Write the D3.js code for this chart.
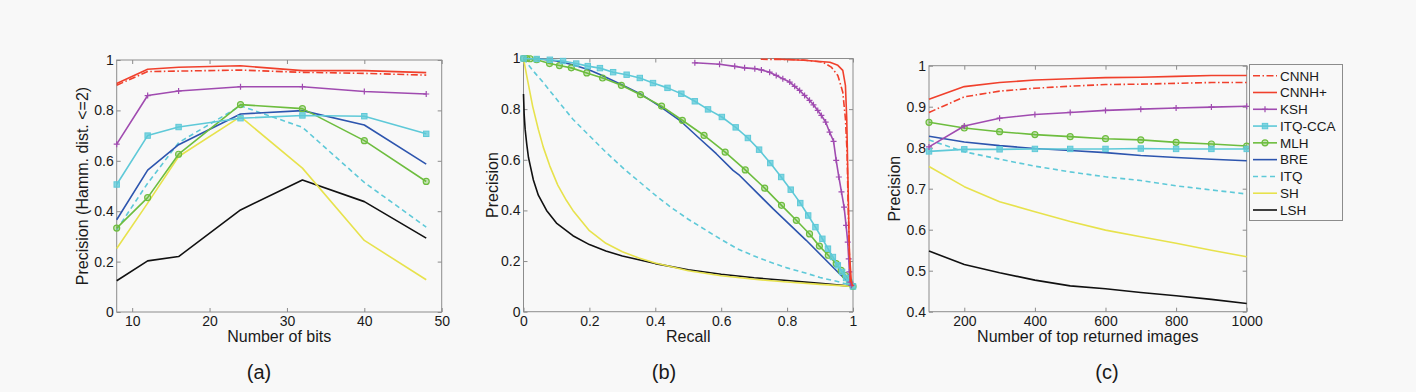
<!DOCTYPE html>
<html>
<head>
<meta charset="utf-8">
<script src="https://cdn.jsdelivr.net/npm/d3@7"></script>
<style>
  html, body { margin: 0; padding: 0; background: #f8f8f8; }
  svg { display: block; }
  text { font-family: "Liberation Sans", Arial, Helvetica, sans-serif; fill: #1a1a1a; }
</style>
</head>
<body>
<script>
// ---------------- DATA ----------------
const seriesNames = ["CNNH", "CNNH+", "KSH", "ITQ-CCA", "MLH", "BRE", "ITQ", "SH", "LSH"];

// Panel (a): precision (Hamming dist <= 2) vs number of bits
const bits = [8, 12, 16, 24, 32, 40, 48];
const a_CNNH   = [0.900, 0.954, 0.956, 0.960, 0.951, 0.947, 0.940];
const a_CNNHp  = [0.907, 0.963, 0.971, 0.977, 0.958, 0.958, 0.950];
const a_KSH    = [0.666, 0.859, 0.877, 0.894, 0.894, 0.875, 0.865];
const a_ITQCCA = [0.506, 0.700, 0.734, 0.769, 0.780, 0.777, 0.707];
const a_MLH    = [0.333, 0.454, 0.626, 0.823, 0.807, 0.680, 0.518];
const a_BRE    = [0.366, 0.563, 0.664, 0.786, 0.799, 0.742, 0.587];
const a_ITQ    = [0.326, 0.511, 0.672, 0.818, 0.733, 0.514, 0.337];
const a_SH     = [0.252, 0.432, 0.617, 0.775, 0.571, 0.284, 0.128];
const a_LSH    = [0.124, 0.203, 0.220, 0.405, 0.524, 0.438, 0.293];

// Panel (b): precision-recall curves
const b_CNNH_r   = [0.72, 0.80, 0.85, 0.908, 0.934, 0.954, 0.969, 0.977, 0.982, 0.985, 0.989, 0.992, 1.0];
const b_CNNH_p   = [0.997, 0.996, 0.994, 0.986, 0.966, 0.933, 0.867, 0.762, 0.630, 0.433, 0.236, 0.117, 0.10];
const b_CNNHp_r  = [0.76, 0.85, 0.93, 0.954, 0.969, 0.977, 0.981, 0.985, 0.989, 0.995, 1.0];
const b_CNNHp_p  = [0.998, 0.993, 0.985, 0.973, 0.953, 0.894, 0.762, 0.499, 0.236, 0.117, 0.10];
const b_KSH_r    = [0.52, 0.595, 0.641, 0.671, 0.702, 0.722, 0.747, 0.767, 0.787, 0.808, 0.823, 0.838, 0.853, 0.868, 0.88, 0.893, 0.904, 0.917, 0.929, 0.941, 0.949, 0.957, 0.965, 0.973, 0.979, 0.984, 0.987, 0.989, 0.992, 0.995];
const b_KSH_p    = [0.983, 0.977, 0.969, 0.963, 0.960, 0.955, 0.946, 0.933, 0.920, 0.907, 0.890, 0.874, 0.854, 0.835, 0.817, 0.795, 0.775, 0.749, 0.709, 0.673, 0.598, 0.532, 0.473, 0.413, 0.341, 0.275, 0.209, 0.157, 0.117, 0.104];
const b_ITQCCA_r = [0, 0.04, 0.08, 0.12, 0.16, 0.195, 0.232, 0.272, 0.313, 0.353, 0.393, 0.437, 0.479, 0.52, 0.56, 0.602, 0.644, 0.681, 0.715, 0.749, 0.782, 0.811, 0.84, 0.864, 0.886, 0.907, 0.924, 0.939, 0.954, 0.967, 0.979, 0.989, 1.0];
const b_ITQCCA_p = [1, 0.998, 0.995, 0.99, 0.98, 0.97, 0.962, 0.946, 0.936, 0.923, 0.903, 0.884, 0.861, 0.831, 0.799, 0.769, 0.728, 0.686, 0.64, 0.587, 0.532, 0.482, 0.429, 0.38, 0.334, 0.288, 0.249, 0.216, 0.183, 0.157, 0.133, 0.117, 0.10];
const b_MLH_r    = [0, 0.01, 0.02, 0.04, 0.079, 0.109, 0.145, 0.192, 0.24, 0.297, 0.355, 0.419, 0.482, 0.548, 0.612, 0.673, 0.732, 0.783, 0.828, 0.868, 0.898, 0.925, 0.949, 0.964, 0.977, 0.989, 1.0];
const b_MLH_p    = [1, 1, 0.999, 0.995, 0.98, 0.972, 0.963, 0.943, 0.923, 0.894, 0.857, 0.812, 0.756, 0.696, 0.63, 0.56, 0.488, 0.42, 0.361, 0.307, 0.259, 0.223, 0.19, 0.163, 0.143, 0.117, 0.10];
const b_BRE_r    = [0, 0.05, 0.1, 0.15, 0.2, 0.232, 0.292, 0.355, 0.414, 0.474, 0.535, 0.585, 0.636, 0.656, 0.757, 0.858, 0.959, 1.0];
const b_BRE_p    = [1, 0.998, 0.99, 0.975, 0.955, 0.937, 0.9, 0.86, 0.811, 0.756, 0.683, 0.624, 0.558, 0.538, 0.407, 0.282, 0.15, 0.10];
const b_ITQ_r    = [0, 0.03, 0.06, 0.1, 0.15, 0.2, 0.25, 0.3, 0.35, 0.4, 0.45, 0.5, 0.55, 0.6, 0.65, 0.7, 0.75, 0.8, 0.85, 0.9, 0.95, 1.0];
const b_ITQ_p    = [1, 0.95, 0.905, 0.84, 0.76, 0.695, 0.63, 0.57, 0.515, 0.46, 0.41, 0.365, 0.325, 0.285, 0.248, 0.22, 0.195, 0.173, 0.155, 0.135, 0.12, 0.103];
const b_SH_r     = [0, 0.01, 0.028, 0.045, 0.06, 0.08, 0.104, 0.13, 0.15, 0.2, 0.25, 0.3, 0.35, 0.4, 0.5, 0.6, 0.7, 0.8, 0.9, 1.0];
const b_SH_p     = [1, 0.93, 0.81, 0.72, 0.65, 0.575, 0.5, 0.44, 0.4, 0.32, 0.27, 0.237, 0.212, 0.192, 0.162, 0.142, 0.128, 0.117, 0.108, 0.10];
const b_LSH_r    = [0, 0.002, 0.005, 0.01, 0.015, 0.02, 0.03, 0.045, 0.07, 0.1, 0.15, 0.2, 0.25, 0.3, 0.4, 0.5, 0.6, 0.7, 0.8, 0.9, 1.0];
const b_LSH_p    = [0.86, 0.78, 0.72, 0.66, 0.61, 0.58, 0.52, 0.46, 0.40, 0.35, 0.30, 0.265, 0.24, 0.22, 0.19, 0.166, 0.148, 0.134, 0.123, 0.112, 0.10];

// Panel (c): precision vs number of top returned images
const topN = [100, 200, 300, 400, 500, 600, 700, 800, 900, 1000];
const c_CNNH   = [0.886, 0.924, 0.938, 0.945, 0.950, 0.954, 0.955, 0.957, 0.959, 0.959];
const c_CNNHp  = [0.918, 0.949, 0.959, 0.965, 0.968, 0.971, 0.972, 0.974, 0.976, 0.976];
const c_KSH    = [0.802, 0.853, 0.872, 0.881, 0.886, 0.891, 0.894, 0.897, 0.899, 0.901];
const c_ITQCCA = [0.791, 0.796, 0.796, 0.797, 0.797, 0.797, 0.798, 0.797, 0.797, 0.797];
const c_MLH    = [0.862, 0.848, 0.839, 0.832, 0.827, 0.822, 0.819, 0.813, 0.809, 0.804];
const c_BRE    = [0.828, 0.814, 0.805, 0.798, 0.793, 0.788, 0.781, 0.776, 0.772, 0.768];
const c_ITQ    = [0.819, 0.790, 0.772, 0.755, 0.741, 0.729, 0.720, 0.707, 0.697, 0.687];
const c_SH     = [0.754, 0.705, 0.668, 0.644, 0.620, 0.599, 0.583, 0.567, 0.550, 0.534];
const c_LSH    = [0.548, 0.515, 0.495, 0.477, 0.463, 0.456, 0.447, 0.439, 0.430, 0.420];

// Tick labels
const aXTicks = [10, 20, 30, 40, 50];
const aYTicks = [0, 0.2, 0.4, 0.6, 0.8, 1];
const bXTicks = [0, 0.2, 0.4, 0.6, 0.8, 1];
const bYTicks = [0, 0.2, 0.4, 0.6, 0.8, 1];
const cXTicks = [200, 400, 600, 800, 1000];
const cYTicks = [0.4, 0.5, 0.6, 0.7, 0.8, 0.9, 1];

// ---------------- STYLES ----------------
const styles = {
  "CNNH":    { color: "#f0402c", dash: "7,2.5,1.5,2.5", marker: null },
  "CNNH+":   { color: "#f0402c", dash: null, marker: null },
  "KSH":     { color: "#a04bb0", dash: null, marker: "plus" },
  "ITQ-CCA": { color: "#5ec9d8", dash: null, marker: "square" },
  "MLH":     { color: "#6dbd3e", dash: null, marker: "circle" },
  "BRE":     { color: "#2d55ae", dash: null, marker: null },
  "ITQ":     { color: "#5ec9d8", dash: "5,3.5", marker: null },
  "SH":      { color: "#e7e24c", dash: null, marker: null },
  "LSH":     { color: "#111111", dash: null, marker: null }
};

const W = 1416, H = 392;
const svg = d3.select("body").append("svg").attr("width", W).attr("height", H);
svg.append("rect").attr("width", W).attr("height", H).attr("fill", "#f8f8f8");

function drawMarker(g, kind, x, y, color) {
  if (kind === "plus") {
    g.append("path").attr("d", `M${x-3},${y}H${x+3}M${x},${y-3}V${y+3}`)
      .attr("stroke", color).attr("stroke-width", 1.2).attr("fill", "none");
  } else if (kind === "square") {
    g.append("rect").attr("x", x-2.7).attr("y", y-2.7).attr("width", 5.4).attr("height", 5.4)
      .attr("fill", color).attr("fill-opacity", 0.75).attr("stroke", color).attr("stroke-width", 1);
  } else if (kind === "circle") {
    g.append("circle").attr("cx", x).attr("cy", y).attr("r", 3)
      .attr("fill", color).attr("fill-opacity", 0.35).attr("stroke", color).attr("stroke-width", 1.2);
  }
}

function panel(cfg) {
  const { x0, x1, y0, y1, xDom, yDom, xTicks, yTicks, series, xLabel, yLabel, yLabelX, tag, tagX } = cfg;
  const x = d3.scaleLinear().domain(xDom).range([x0, x1]);
  const y = d3.scaleLinear().domain(yDom).range([y1, y0]);
  const g = svg.append("g");
  const fmt = d3.format("~g");
  const tickLen = 4;

  // axes (ticks inward, all four sides)
  const axB = g.append("g").attr("transform", `translate(0,${y1})`)
    .call(d3.axisBottom(x).tickValues(xTicks).tickFormat(fmt).tickSizeInner(-tickLen).tickSizeOuter(0).tickPadding(4));
  const axT = g.append("g").attr("transform", `translate(0,${y0})`)
    .call(d3.axisTop(x).tickValues(xTicks).tickFormat("").tickSizeInner(-tickLen).tickSizeOuter(0));
  const axL = g.append("g").attr("transform", `translate(${x0},0)`)
    .call(d3.axisLeft(y).tickValues(yTicks).tickFormat(fmt).tickSizeInner(-tickLen).tickSizeOuter(0).tickPadding(3));
  const axR = g.append("g").attr("transform", `translate(${x1},0)`)
    .call(d3.axisRight(y).tickValues(yTicks).tickFormat("").tickSizeInner(-tickLen).tickSizeOuter(0));
  [axB, axT, axL, axR].forEach(a => {
    a.select(".domain").remove();
    a.selectAll("line").attr("stroke", "#8c8c8c");
    a.selectAll("text").attr("font-size", 14).attr("fill", "#1a1a1a")
      .attr("font-family", '"Liberation Sans", Arial, Helvetica, sans-serif');
  });
  g.append("rect").attr("x", x0).attr("y", y0).attr("width", x1 - x0).attr("height", y1 - y0)
    .attr("fill", "none").attr("stroke", "#8c8c8c").attr("stroke-width", 1);

  // series
  const line = d3.line().x(d => x(d[0])).y(d => y(d[1]));
  series.slice().reverse().forEach(s => {
    const st = styles[s.name];
    const pts = s.xs.map((v, i) => [v, s.ys[i]]);
    const sg = g.append("g");
    sg.append("path").attr("d", line(pts)).attr("fill", "none")
      .attr("stroke", st.color).attr("stroke-width", 1.6)
      .attr("stroke-dasharray", st.dash).attr("stroke-linejoin", "round");
    if (st.marker) pts.forEach(p => drawMarker(sg, st.marker, x(p[0]), y(p[1]), st.color));
  });

  // labels
  g.append("text").attr("x", (x0 + x1) / 2).attr("y", 342).attr("text-anchor", "middle")
    .attr("font-size", 16).text(xLabel);
  g.append("text").attr("transform", `translate(${yLabelX},${(y0 + y1) / 2}) rotate(-90)`)
    .attr("text-anchor", "middle").attr("font-size", 16).text(yLabel);
  g.append("text").attr("x", tagX).attr("y", 379).attr("text-anchor", "middle")
    .attr("font-size", 20).attr("font-family", '"Liberation Serif", "Times New Roman", serif').text(tag);
}

panel({
  x0: 116.7, x1: 441.7, y0: 60, y1: 312, xDom: [8, 50], yDom: [0, 1],
  xTicks: aXTicks, yTicks: aYTicks, xLabel: "Number of bits", yLabel: "Precision (Hamm. dist. <=2)",
  yLabelX: 88, tag: "(a)", tagX: 259,
  series: [
    { name: "CNNH", xs: bits, ys: a_CNNH }, { name: "CNNH+", xs: bits, ys: a_CNNHp },
    { name: "KSH", xs: bits, ys: a_KSH }, { name: "ITQ-CCA", xs: bits, ys: a_ITQCCA },
    { name: "MLH", xs: bits, ys: a_MLH }, { name: "BRE", xs: bits, ys: a_BRE },
    { name: "ITQ", xs: bits, ys: a_ITQ }, { name: "SH", xs: bits, ys: a_SH },
    { name: "LSH", xs: bits, ys: a_LSH }
  ]
});

panel({
  x0: 523.5, x1: 853, y0: 58.5, y1: 311.7, xDom: [0, 1], yDom: [0, 1],
  xTicks: bXTicks, yTicks: bYTicks, xLabel: "Recall", yLabel: "Precision",
  yLabelX: 498, tag: "(b)", tagX: 664,
  series: [
    { name: "CNNH", xs: b_CNNH_r, ys: b_CNNH_p }, { name: "CNNH+", xs: b_CNNHp_r, ys: b_CNNHp_p },
    { name: "KSH", xs: b_KSH_r, ys: b_KSH_p }, { name: "ITQ-CCA", xs: b_ITQCCA_r, ys: b_ITQCCA_p },
    { name: "MLH", xs: b_MLH_r, ys: b_MLH_p }, { name: "BRE", xs: b_BRE_r, ys: b_BRE_p },
    { name: "ITQ", xs: b_ITQ_r, ys: b_ITQ_p }, { name: "SH", xs: b_SH_r, ys: b_SH_p },
    { name: "LSH", xs: b_LSH_r, ys: b_LSH_p }
  ]
});

panel({
  x0: 929, x1: 1246.7, y0: 65.7, y1: 311.7, xDom: [100, 1000], yDom: [0.4, 1],
  xTicks: cXTicks, yTicks: cYTicks, xLabel: "Number of top returned images", yLabel: "Precision",
  yLabelX: 900, tag: "(c)", tagX: 1107,
  series: [
    { name: "CNNH", xs: topN, ys: c_CNNH }, { name: "CNNH+", xs: topN, ys: c_CNNHp },
    { name: "KSH", xs: topN, ys: c_KSH }, { name: "ITQ-CCA", xs: topN, ys: c_ITQCCA },
    { name: "MLH", xs: topN, ys: c_MLH }, { name: "BRE", xs: topN, ys: c_BRE },
    { name: "ITQ", xs: topN, ys: c_ITQ }, { name: "SH", xs: topN, ys: c_SH },
    { name: "LSH", xs: topN, ys: c_LSH }
  ]
});

// legend
const lg = svg.append("g");
lg.append("rect").attr("x", 1249.5).attr("y", 64.5).attr("width", 93).attr("height", 156)
  .attr("fill", "#f8f8f8").attr("stroke", "#8c8c8c").attr("stroke-width", 1);
const ly = d3.scalePoint().domain(seriesNames).range([75.7, 210]);
seriesNames.forEach(n => {
  const st = styles[n];
  const yy = ly(n);
  lg.append("line").attr("x1", 1253).attr("x2", 1277).attr("y1", yy).attr("y2", yy)
    .attr("stroke", st.color).attr("stroke-width", 1.6).attr("stroke-dasharray", st.dash);
  if (st.marker) drawMarker(lg, st.marker, 1265, yy, st.color);
  lg.append("text").attr("x", 1280).attr("y", yy).attr("dy", "0.36em")
    .attr("font-size", 13.5).text(n);
});
</script>
</body>
</html>
